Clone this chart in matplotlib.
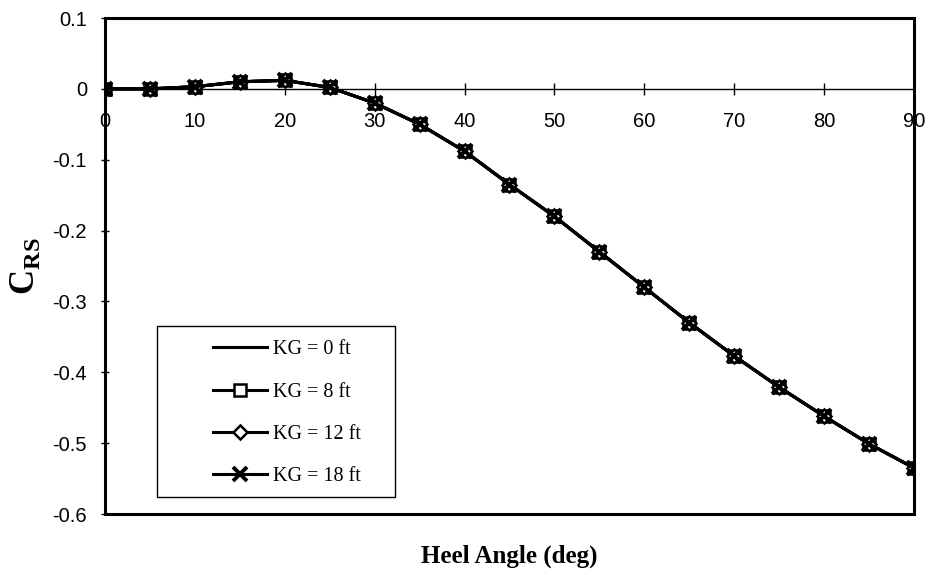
import matplotlib
matplotlib.use("Agg")
import matplotlib.pyplot as plt
from matplotlib.patches import Rectangle

heel_angle = [0, 5, 10, 15, 20, 25, 30, 35, 40, 45, 50, 55, 60, 65, 70, 75, 80, 85, 90]
crs_kg0 = [0.0, 0.0, 0.003, 0.010, 0.012, 0.002, -0.020, -0.050, -0.088, -0.135, -0.180,
           -0.230, -0.280, -0.330, -0.377, -0.421, -0.462, -0.501, -0.535]
crs_kg8 = list(crs_kg0)
crs_kg12 = list(crs_kg0)
crs_kg18 = list(crs_kg0)
series_labels = ["KG = 0 ft", "KG = 8 ft", "KG = 12 ft", "KG = 18 ft"]
x_ticks = [0, 10, 20, 30, 40, 50, 60, 70, 80, 90]
y_ticks = [-0.6, -0.5, -0.4, -0.3, -0.2, -0.1, 0, 0.1]
y_tick_labels = ["-0.6", "-0.5", "-0.4", "-0.3", "-0.2", "-0.1", "0", "0.1"]

plt.rcParams['mathtext.fontset'] = 'custom'
plt.rcParams['mathtext.bf'] = 'Liberation Serif:bold'
plt.rcParams['mathtext.rm'] = 'Liberation Serif:bold'

fig = plt.figure(figsize=(9.29, 5.75), dpi=100)
L, R, T, B = 105, 914, 18, 514
ax = fig.add_axes([L/929, 1-B/575, (R-L)/929, (B-T)/575])

lw = 2.2
ax.plot(heel_angle, crs_kg0, color='black', lw=lw, label=series_labels[0], zorder=3)
ax.plot(heel_angle, crs_kg8, color='black', lw=lw, marker='s', ms=8, mfc='white',
        mec='black', mew=1.8, label=series_labels[1], zorder=4)
ax.plot(heel_angle, crs_kg12, color='black', lw=lw, marker='D', ms=7, mfc='white',
        mec='black', mew=1.8, label=series_labels[2], zorder=5)
ax.plot(heel_angle, crs_kg18, color='black', lw=lw, marker='x', ms=10,
        mec='black', mew=2.8, label=series_labels[3], zorder=6)

ax.set_xlim(0, 90)
ax.set_ylim(-0.6, 0.1)

for s in ['top', 'right', 'left']:
    ax.spines[s].set_visible(False)
ax.spines['bottom'].set_position(('data', 0))
ax.spines['bottom'].set_linewidth(1.0)
ax.add_patch(Rectangle((0, 0), 1, 1, transform=ax.transAxes, fill=False,
                       lw=2.2, ec='black', clip_on=False, zorder=10))

ax.set_xticks(x_ticks)
ax.set_xticklabels([str(v) for v in x_ticks], fontsize=14.5, family='Liberation Sans')
ax.set_yticks(y_ticks)
ax.set_yticklabels(y_tick_labels, fontsize=14.5, family='Liberation Sans')
ax.tick_params(axis='x', direction='inout', length=9, width=1, pad=12)
ax.tick_params(axis='y', direction='inout', length=6, width=1, pad=10)

fig.text(25/929, 1-266/575, r'$\mathbf{C}_{\mathbf{RS}}$', rotation=90, fontsize=25,
         ha='center', va='center')
fig.text(509/929, 1-556/575, 'Heel Angle (deg)', fontsize=18, fontweight='bold',
         family='Liberation Serif', ha='center', va='center')

# legend frame
ax.add_patch(Rectangle(((157-L)/(R-L), (B-497)/(B-T)), (395-157)/(R-L), (497-326)/(B-T),
                       transform=ax.transAxes, fill=True, fc='white', lw=1.0,
                       ec='black', zorder=15))
leg = ax.legend(loc='upper left', bbox_to_anchor=((213-L)/(R-L), (B-340)/(B-T)),
                prop={'family': 'Liberation Serif', 'size': 14.5},
                frameon=False, handlelength=2.68, handletextpad=0.3, labelspacing=1.16,
                borderpad=0, borderaxespad=0, markerscale=1.0)
leg.set_zorder(20)

fig.savefig('out.png', dpi=100)
